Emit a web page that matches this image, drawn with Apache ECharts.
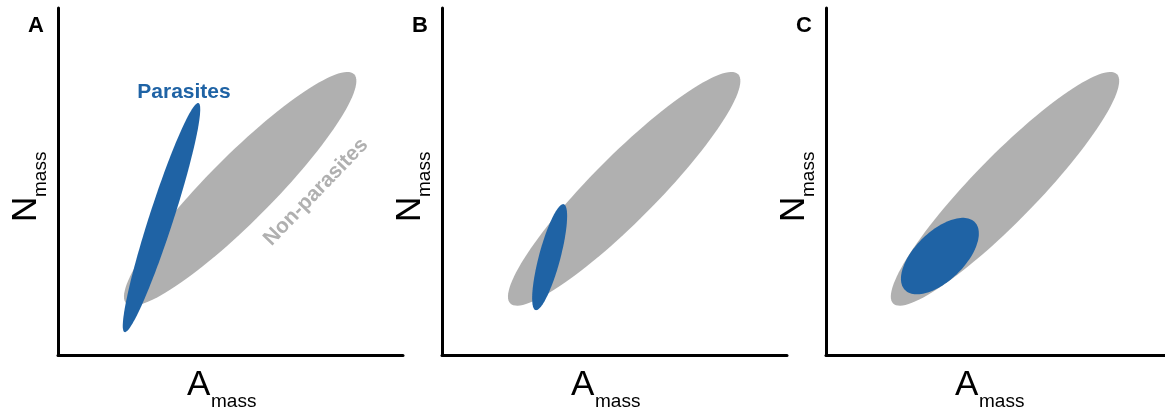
<!DOCTYPE html>
<html>
<head>
<meta charset="utf-8">
<script src="https://cdn.jsdelivr.net/npm/echarts@6/dist/echarts.min.js"></script>
<style>
  html, body { margin: 0; padding: 0; background: #fff; }
  #chart { width: 1165px; height: 415px; }
</style>
</head>
<body>
<div id="chart"></div>
<script>
// ellipses: [centre x, centre y, semi-major, semi-minor, angle in degrees]
const panels = ['A', 'B', 'C']
const nonParasites = [52.8, 47.9, 46.7, 9.4, 45]
const parasites = [
  [30.0, 39.6, 34.7, 3.5, 72],
  [31.2, 28.2, 15.8, 3.1, 75],
  [33.6, 28.5, 14.2, 7.2, 43],
]
const xLabel = ['A', 'mass']
const yLabel = ['N', 'mass']

const GREY = '#b0b0b0'
const BLUE = '#1f63a5'
const FONT = '"Liberation Sans", Arial, sans-serif'
const lefts = [58, 442, 826]

let chart = echarts.init(document.getElementById('chart'))

// 椭圆 -> 多边形, 坐标走轴的比例尺
const ellipseItem = (color) => (params, api) => {
  let cx = api.value(0), cy = api.value(1), a = api.value(2), b = api.value(3)
  let t = (api.value(4) * Math.PI) / 180
  let pts = []
  for (let i = 0; i < 120; i++) {
    let s = (i / 120) * Math.PI * 2
    let x = cx + a * Math.cos(t) * Math.cos(s) - b * Math.sin(t) * Math.sin(s)
    let y = cy + a * Math.sin(t) * Math.cos(s) + b * Math.cos(t) * Math.sin(s)
    pts.push(api.coord([x, y]))
  }
  return { type: 'polygon', shape: { points: pts }, style: { fill: color } }
}

let grid = [], xAxis = [], yAxis = [], series = [], graphic = []

panels.forEach((name, i) => {
  let left = lefts[i]
  grid.push({ left: left, top: 8, width: 345, height: 347 })
  let axisCommon = {
    gridIndex: i,
    min: 0,
    max: 100,
    axisLine: { show: true, lineStyle: { color: '#000', width: 3 } },
    axisTick: { show: false },
    axisLabel: { show: false },
    splitLine: { show: false },
  }
  xAxis.push(Object.assign({ type: 'value' }, axisCommon))
  yAxis.push(Object.assign({ type: 'value' }, axisCommon))

  series.push({
    type: 'custom',
    xAxisIndex: i,
    yAxisIndex: i,
    silent: true,
    clip: false,
    renderItem: ellipseItem(GREY),
    data: [nonParasites],
  })
  series.push({
    type: 'custom',
    xAxisIndex: i,
    yAxisIndex: i,
    silent: true,
    clip: false,
    z: 3,
    renderItem: ellipseItem(BLUE),
    data: [parasites[i]],
  })

  // 面板字母
  graphic.push({
    type: 'text', x: left - 22, y: 26,
    style: { text: name, font: 'bold 22px ' + FONT, fill: '#000', align: 'center', verticalAlign: 'middle' },
  })
  // 横轴标题
  graphic.push({
    type: 'text', x: left + 129, y: 385,
    style: { text: xLabel[0], font: '35px ' + FONT, fill: '#000', align: 'left', verticalAlign: 'middle' },
  })
  graphic.push({
    type: 'text', x: left + 153, y: 402,
    style: { text: xLabel[1], font: '19px ' + FONT, fill: '#000', align: 'left', verticalAlign: 'middle' },
  })
  // 纵轴标题 (旋转)
  graphic.push({
    type: 'text', x: left - 32, y: 222, rotation: Math.PI / 2,
    style: { text: yLabel[0], font: '35px ' + FONT, fill: '#000', align: 'left', verticalAlign: 'middle' },
  })
  graphic.push({
    type: 'text', x: left - 17, y: 197, rotation: Math.PI / 2,
    style: { text: yLabel[1], font: '19px ' + FONT, fill: '#000', align: 'left', verticalAlign: 'middle' },
  })
})

// 图例文字, 只在 A
graphic.push({
  type: 'text', x: 184, y: 92,
  style: { text: 'Parasites', font: 'bold 21px ' + FONT, fill: BLUE, align: 'center', verticalAlign: 'middle' },
})
graphic.push({
  type: 'text', x: 316, y: 192, rotation: (46 * Math.PI) / 180,
  style: { text: 'Non-parasites', font: 'bold 21px ' + FONT, fill: GREY, align: 'center', verticalAlign: 'middle' },
})

chart.setOption({
  animation: false,
  backgroundColor: '#fff',
  grid: grid,
  xAxis: xAxis,
  yAxis: yAxis,
  series: series,
  graphic: graphic,
})
</script>
</body>
</html>
